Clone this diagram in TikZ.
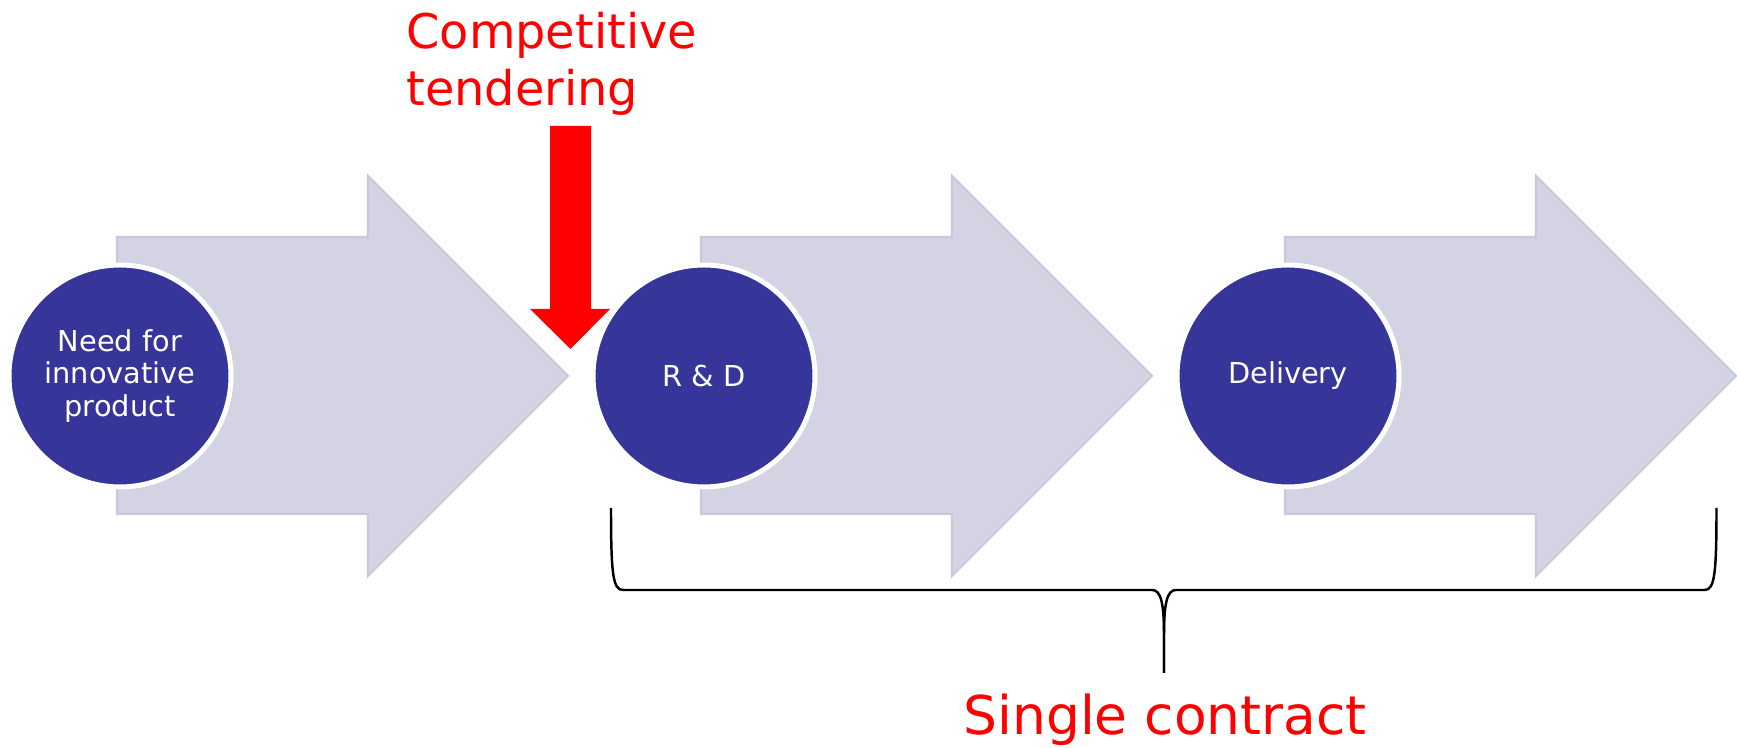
\documentclass[tikz,border=0pt]{standalone}
\usepackage{fontspec}
\setmainfont{DejaVu Sans}
\usetikzlibrary{calc}

\definecolor{stageblue}{RGB}{53,53,154}
\definecolor{stepgrey}{RGB}{211,211,227}
\definecolor{stepedge}{RGB}{201,201,220}

\begin{document}
\begin{tikzpicture}

    \tikzstyle{stage}=[circle, fill=stageblue, draw=white, line width=0.05cm, minimum size=2.22cm, inner sep=0pt, text=white, align=center, font=\fontsize{8.2}{9.2}\selectfont];
    \tikzstyle{block}=[fill=stepgrey, draw=stepedge, line width=0.6pt];
    \tikzstyle{remark}=[text=red, inner sep=0pt];

    \useasboundingbox (0,0) rectangle (17.37,7.48);

    \foreach \x in {1.17, 7.01, 12.85}
        \draw[block] (\x,5.11) -- ++(2.51,0) -- ++(0,0.61) -- ++(2,-2) -- ++(-2,-2) -- ++(0,0.62) -- ++(-2.51,0) -- cycle;

    \node[stage] (need) at (1.20,3.72) {Need for\\innovative\\product};
    \node[stage] (rd) at ($(need)+(5.84,0)$) {R \& D};
    \node[stage] (delivery) at ($(rd)+(5.84,0)$) {Delivery};

    \fill[red] (5.50,6.22) -- (5.91,6.22) -- (5.91,4.39) -- (6.10,4.39) -- (5.705,3.99) -- (5.30,4.39) -- (5.50,4.39) -- cycle;

    \node[remark, anchor=north west, align=left, font=\fontsize{13.6}{16.3}\selectfont] (tender) at (4.057,7.366) {Competitive\\tendering};
    \node[remark, anchor=base, font=\fontsize{15.2}{18}\selectfont] (single) at (11.65,0.13) {Single contract};

    \coordinate (bl) at (6.11,2.40);
    \coordinate (br) at (17.165,2.40);
    \coordinate (bt) at (11.64,0.75);

    \draw[line width=0.7pt, line join=round] (bl) .. controls (6.11,1.73) and (6.13,1.58) .. (6.23,1.58) -- (11.52,1.58) .. controls (11.61,1.58) and (11.64,1.45) .. (11.64,1.12) -- (bt);
    \draw[line width=0.7pt, line join=round] (bt) -- (11.64,1.12) .. controls (11.64,1.45) and (11.67,1.58) .. (11.76,1.58) -- (17.045,1.58) .. controls (17.145,1.58) and (17.165,1.73) .. (br);
\end{tikzpicture}
\end{document}
